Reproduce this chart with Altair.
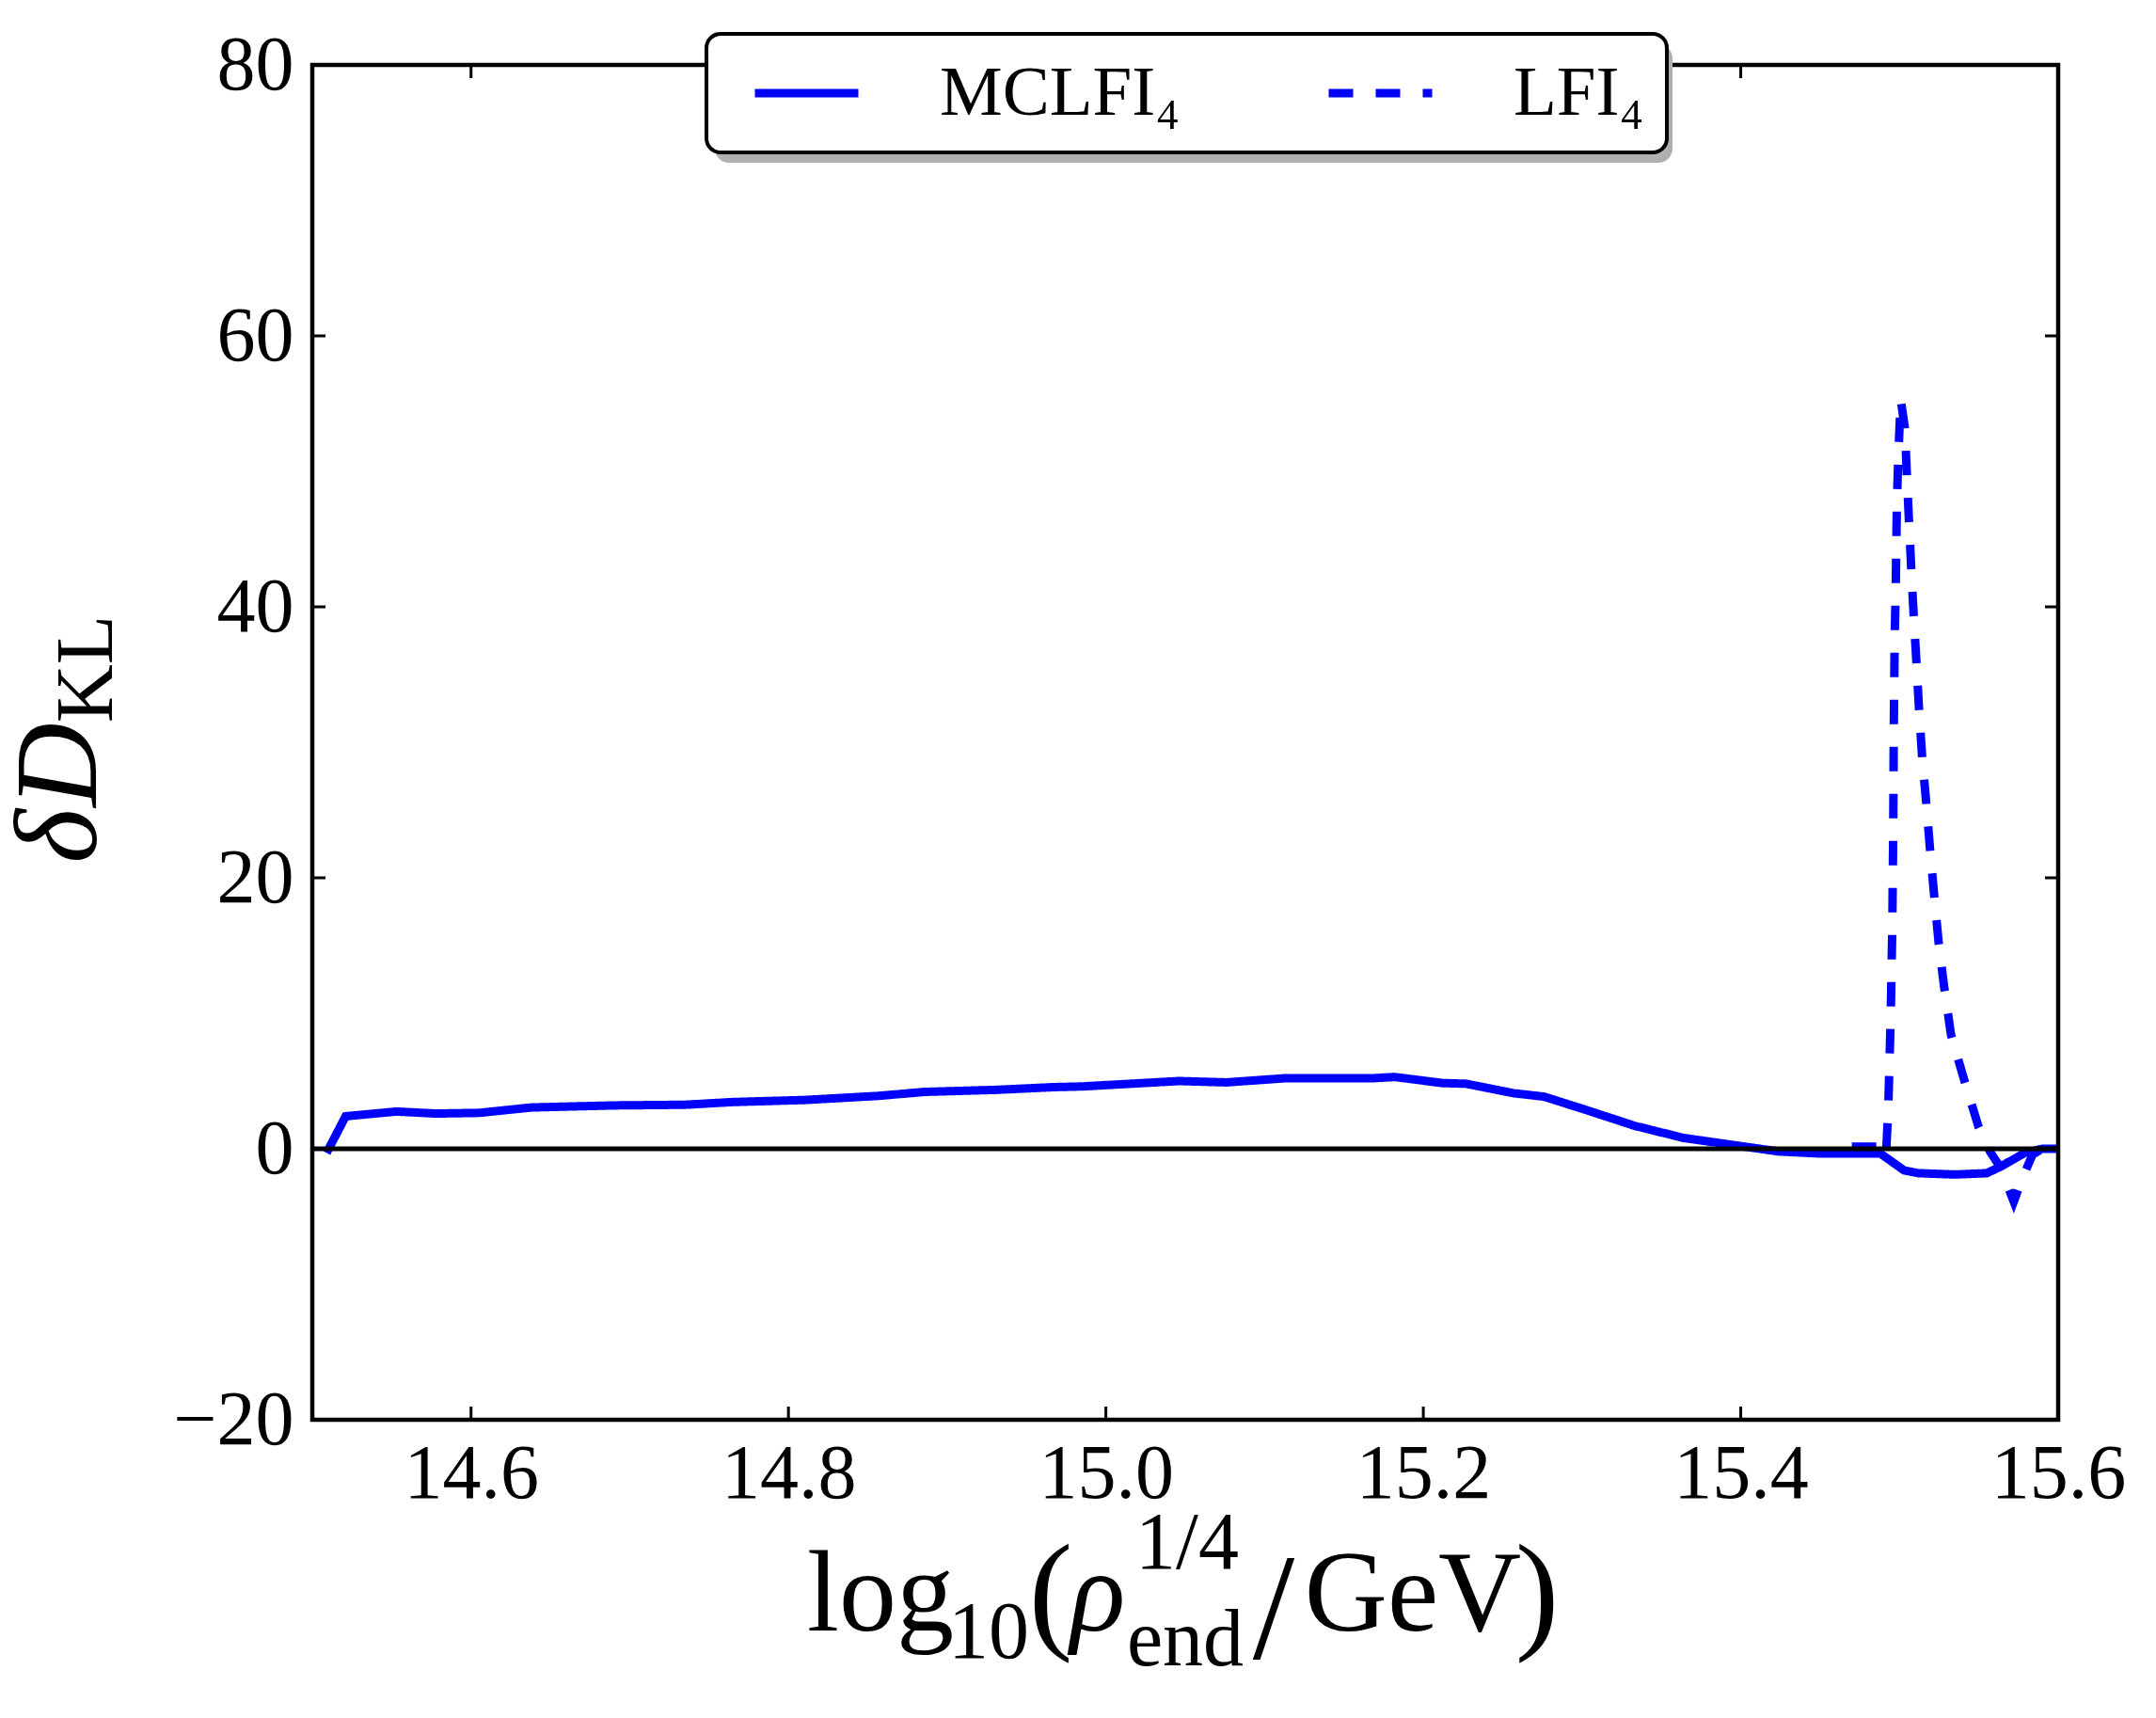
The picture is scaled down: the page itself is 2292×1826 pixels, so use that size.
import altair as alt
import pandas as pd

# ---------------- data ----------------
x_domain = [14.5, 15.6]
y_domain = [-20, 80]
x_ticks = [14.6, 14.8, 15.0, 15.2, 15.4, 15.6]
y_ticks = [-20, 0, 20, 40, 60, 80]
series_names = ["MCLFI₄", "LFI₄"]

mclfi_x = [14.509, 14.521, 14.553, 14.578, 14.605, 14.638, 14.690, 14.735, 14.765,
           14.810, 14.856, 14.886, 14.931, 14.967, 14.985, 15.046, 15.076, 15.112,
           15.167, 15.182, 15.212, 15.227, 15.257, 15.276, 15.303, 15.333, 15.364,
           15.394, 15.424, 15.450, 15.488, 15.503, 15.512, 15.535, 15.555, 15.564,
           15.579, 15.590, 15.600]
mclfi_y = [-0.3, 2.4, 2.75, 2.6, 2.65, 3.05, 3.2, 3.25, 3.45,
           3.6, 3.9, 4.2, 4.35, 4.55, 4.6, 5.0, 4.9, 5.2,
           5.2, 5.3, 4.85, 4.8, 4.1, 3.85, 2.85, 1.7, 0.8,
           0.3, -0.2, -0.35, -0.35, -1.6, -1.8, -1.9, -1.8, -1.3,
           -0.3, 0.0, 0.0]

lfi_x = [15.470, 15.488, 15.4915, 15.4929, 15.4945, 15.4955, 15.4961, 15.4964, 15.4970,
         15.4976, 15.4980, 15.4984, 15.4994, 15.5008, 15.5034, 15.5046, 15.5060, 15.5074,
         15.5089, 15.5107, 15.5123, 15.5143, 15.5169, 15.5192, 15.5218, 15.5247, 15.5281,
         15.5325, 15.5410, 15.5499, 15.5570, 15.5637, 15.5720, 15.5780, 15.5840, 15.5900,
         15.6000]
lfi_y = [0.15, 0.15, -0.5, 2.8, 9.8, 16.5, 23.75, 30.7, 37.7,
         41.0, 44.4, 47.8, 51.5, 55.3, 53.2, 49.9, 46.3, 42.9,
         39.5, 35.9, 32.5, 28.9, 25.5, 22.2, 18.8, 15.2, 12.0,
         8.4, 5.0, 1.6, -0.2, -1.4, -3.9, -2.0, -0.4, 0.0,
         0.0]

# ---------------- layout constants ----------------
W, H = 1856, 1440
FONT = "Liberation Serif"
BLUE = "#0000ff"

df = pd.concat([
    pd.DataFrame({"x": mclfi_x, "y": mclfi_y, "series": series_names[0]}),
    pd.DataFrame({"x": lfi_x, "y": lfi_y, "series": series_names[1]}),
], ignore_index=True)
df["idx"] = range(len(df))

x_scale = alt.Scale(domain=x_domain, nice=False, zero=False)
y_scale = alt.Scale(domain=y_domain, nice=False, zero=False)
x_axis = alt.Axis(values=x_ticks, format=".1f", title=None, ticks=False, tickSize=0,
                  domain=False, grid=False, labelFont=FONT, labelFontSize=82,
                  labelColor="black", labelPadding=17, labelFlush=False, labelOverlap=False)
y_axis = alt.Axis(values=y_ticks, format="d", title=None, ticks=False, tickSize=0,
                  domain=False, grid=False, labelFont=FONT, labelFontSize=82,
                  labelColor="black", labelPadding=20, labelFlush=False, labelOverlap=False)


def X(field="x"):
    return alt.X(f"{field}:Q", scale=x_scale, axis=x_axis)


def Y(field="y"):
    return alt.Y(f"{field}:Q", scale=y_scale, axis=y_axis)


one = pd.DataFrame({"k": [0]})

lines = alt.Chart(df).mark_line(strokeWidth=9, color=BLUE, strokeCap="butt").encode(
    x=X(), y=Y(),
    strokeDash=alt.StrokeDash(
        "series:N",
        scale=alt.Scale(domain=series_names, range=[[1, 0], [26, 24]]),
        legend=alt.Legend(
            title=None, orient="none", legendX=419, legendY=-33,
            direction="horizontal", symbolType="stroke", symbolSize=12100,
            symbolStrokeWidth=9, symbolStrokeColor=BLUE, symbolOffset=23,
            labelFont=FONT, labelFontSize=75, labelColor="black", labelOffset=82,
            labelLimit=600, columnPadding=130, padding=24, clipHeight=78,
            cornerRadius=15, fillColor="white", strokeColor="black",
        ),
    ),
    order="idx:Q",
)

zero = alt.Chart(pd.DataFrame({"y": [0]})).mark_rule(color="black", strokeWidth=5).encode(y=Y())

xt = pd.DataFrame({"x": x_ticks})
yt = pd.DataFrame({"y": y_ticks})
tick_bottom = alt.Chart(xt).mark_rule(color="black", strokeWidth=3).encode(
    x=X(), y=alt.value(H), y2=alt.value(H - 14))
tick_top = alt.Chart(xt).mark_rule(color="black", strokeWidth=3).encode(
    x=X(), y=alt.value(0), y2=alt.value(14))
tick_left = alt.Chart(yt).mark_rule(color="black", strokeWidth=3).encode(
    y=Y(), x=alt.value(0), x2=alt.value(14))
tick_right = alt.Chart(yt).mark_rule(color="black", strokeWidth=3).encode(
    y=Y(), x=alt.value(W), x2=alt.value(W - 14))

frame = alt.Chart(one).mark_rect(fillOpacity=0, stroke="black", strokeWidth=4.5).encode(
    x=alt.value(0), x2=alt.value(W), y=alt.value(0), y2=alt.value(H))

shadow = alt.Chart(one).mark_rect(color="#b0b0b0", cornerRadius=15).encode(
    x=alt.value(428), x2=alt.value(1446), y=alt.value(-22), y2=alt.value(104))


def txt(s, x, y, size, italic=False, angle=0):
    kw = dict(font=FONT, fontSize=size, color="black", align="center", baseline="alphabetic")
    if italic:
        kw["fontStyle"] = "italic"
    if angle:
        kw["angle"] = angle
    return alt.Chart(one).mark_text(**kw).encode(
        x=alt.value(x), y=alt.value(y), text=alt.value(s))


title_layers = [
    txt("log", 604, 1664, 122),
    txt("10", 719, 1693, 86),
    txt("(", 785, 1669, 140),
    txt("ρ", 835, 1664, 122, italic=True),
    txt("1/4", 930, 1598, 86),
    txt("end", 928, 1701, 86),
    txt("/", 1022, 1693, 160),
    txt("GeV", 1170, 1664, 122),
    txt(")", 1302, 1669, 140),
    txt("δ", -230, 820, 124, italic=True, angle=270),
    txt("D", -230, 744, 124, italic=True, angle=270),
    txt("KL", -213, 642, 86, angle=270),
]

chart = alt.layer(
    lines, zero, tick_bottom, tick_top, tick_left, tick_right, frame, shadow, *title_layers
).properties(
    width=W, height=H,
    autosize=alt.AutoSizeParams(type="none"),
    padding={"left": 324, "top": 61, "right": 96, "bottom": 309},
).configure(background="white").configure_view(strokeWidth=0).configure_legend(strokeWidth=4)

chart.save("out.html", embed_options={"renderer": "svg", "actions": False})
